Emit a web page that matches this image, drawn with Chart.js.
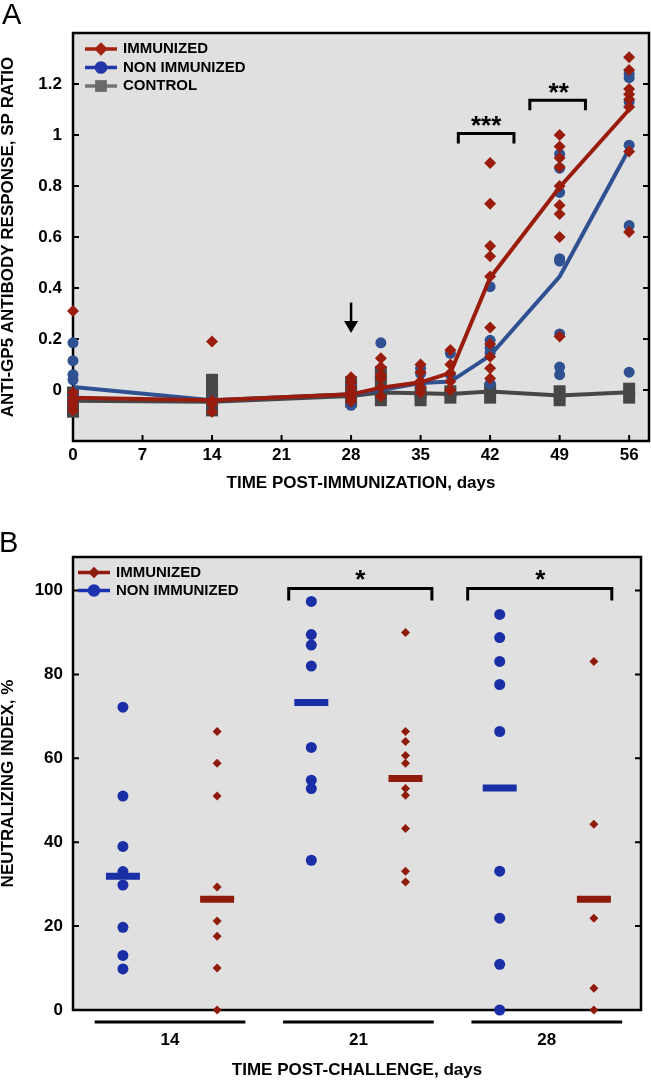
<!DOCTYPE html>
<html>
<head>
<meta charset="utf-8">
<script src="https://cdn.jsdelivr.net/npm/chart.js@4.4.1/dist/chart.umd.min.js"></script>
<style>
  body { margin: 0; background: #fff; width: 651px; height: 1080px; position: relative; overflow: hidden; }
  canvas { position: absolute; left: 0; }
  .panel-label { position: absolute; font-family: "Liberation Sans", Arial, sans-serif; font-size: 29px; line-height: 1; color: #000; }
</style>
</head>
<body>
<canvas id="chartA" width="651" height="500" style="top:0"></canvas>
<canvas id="chartB" width="651" height="580" style="top:500px"></canvas>
<div class="panel-label" style="left:2px; top:0px;">A</div>
<div class="panel-label" style="left:-1px; top:528px;">B</div>
<script>
// ---- Panel A: anti-GP5 antibody response (SP ratio) ----
const daysA = [0, 14, 28, 31, 35, 38, 42, 49, 56];
const dayTicksA = [0, 7, 14, 21, 28, 35, 42, 49, 56];
const spTicksA = [0, 0.2, 0.4, 0.6, 0.8, 1, 1.2];
const spLabelsA = ['0', '0.2', '0.4', '0.6', '0.8', '1', '1.2'];

const immunizedMeanA = [-0.03, -0.04, -0.017, 0.009, 0.03, 0.067, 0.44, 0.795, 1.10];
const nonImmunizedMeanA = [0.012, -0.04, -0.017, 0.0, 0.027, 0.033, 0.135, 0.445, 0.945];
const controlMeanA = [-0.042, -0.046, -0.024, -0.01, -0.013, -0.016, -0.006, -0.022, -0.009];

const immunizedA = [
  [0.31, -0.01, -0.03, -0.045, -0.06, -0.08],
  [0.19, -0.04, -0.055, -0.085],
  [0.05, 0.03, 0.01, -0.01, -0.03, -0.045],
  [0.125, 0.09, 0.06, 0.045, 0.01, -0.025],
  [0.1, 0.07, 0.035, 0.01, -0.01],
  [0.157, 0.1, 0.066, 0.033, 0.0],
  [0.89, 0.73, 0.565, 0.525, 0.445, 0.245, 0.18, 0.13, 0.085, 0.045],
  [1.0, 0.955, 0.91, 0.875, 0.8, 0.725, 0.69, 0.6, 0.21],
  [1.305, 1.255, 1.18, 1.16, 1.14, 1.11, 0.935, 0.62]
];
const nonImmunizedA = [
  [0.185, 0.115, 0.06, 0.04, -0.02, -0.05],
  [-0.04],
  [0.02, -0.06],
  [0.185, 0.0],
  [0.085, 0.065, 0.02],
  [0.144, 0.06],
  [0.405, 0.195, 0.165, 0.145, 0.025],
  [0.925, 0.87, 0.775, 0.515, 0.505, 0.22, 0.09, 0.06],
  [1.24, 1.225, 1.13, 0.96, 0.645, 0.07]
];
const controlA = [
  [-0.01, -0.05, -0.085],
  [0.04, 0.0, -0.04, -0.08],
  [0.03, -0.01, -0.045],
  [0.07, 0.03, -0.01, -0.04],
  [-0.01, -0.04],
  [-0.005, -0.03],
  [0.005, -0.03],
  [-0.005, -0.04],
  [0.005, -0.03]
];

// ---- Panel B: neutralizing index ----
const groupsB = ['14', '21', '28'];
const groupTicksB = [0.5, 2.5, 4.5];
const slotsNonImmB = [0, 2, 4];
const slotsImmB = [1, 3, 5];
const niTicksB = [0, 20, 40, 60, 80, 100];

const nonImmunizedB = [
  [72.2, 51, 39, 33, 29.8, 19.7, 13, 9.8],
  [97.4, 89.5, 87, 82, 62.6, 54.8, 52.8, 35.7],
  [94.3, 88.8, 83.1, 77.6, 66.4, 33.1, 21.9, 10.9, 0]
];
const immunizedB = [
  [66.4, 58.8, 51, 29.3, 21.2, 17.6, 10, 0],
  [90, 66.4, 64, 60.7, 58.8, 52.8, 51.2, 43.3, 33.1, 30.5],
  [83.1, 44.3, 21.9, 5.2, 0]
];
const nonImmunizedMedianB = [31.9, 73.3, 52.9];
const immunizedMedianB = [26.4, 55.2, 26.4];

const RED_A = '#9a1c0c';
const BLUE_A = '#2f5191';
const GRAY_A = '#474747';
const RED_B = '#8f1b0c';
const BLUE_B = '#1a2ea6';
const FONT = '"Liberation Sans", Arial, sans-serif';

Chart.defaults.font.family = FONT;
Chart.defaults.color = '#000';

function toPoints(xs, groups) {
  const out = [];
  groups.forEach((vals, i) => vals.forEach(v => out.push({ x: xs[i], y: v })));
  return out;
}

function drawMarker(ctx, style, x, y, r, color) {
  ctx.fillStyle = color;
  ctx.beginPath();
  if (style === 'circle') {
    ctx.arc(x, y, r, 0, Math.PI * 2);
  } else if (style === 'rectRot') {
    ctx.moveTo(x, y - r); ctx.lineTo(x + r, y); ctx.lineTo(x, y + r); ctx.lineTo(x - r, y); ctx.closePath();
  } else {
    const s = r * Math.SQRT1_2;
    ctx.rect(x - s, y - s, 2 * s, 2 * s);
  }
  ctx.fill();
}

function drawStars(ctx, text, x, yCenter) {
  ctx.font = 'bold 26px ' + FONT;
  ctx.textAlign = 'center';
  ctx.textBaseline = 'alphabetic';
  ctx.fillStyle = '#000';
  ctx.fillText(text, x, yCenter + 15);
}

function drawBracket(ctx, x1, x2, y, leg) {
  ctx.beginPath();
  ctx.moveTo(x1, y + leg);
  ctx.lineTo(x1, y);
  ctx.lineTo(x2, y);
  ctx.lineTo(x2, y + leg);
  ctx.stroke();
}

// keep the plot box where it is: no extra room for tick labels
function noPadding(s) {
  s.paddingLeft = 0; s.paddingRight = 0; s.paddingTop = 0; s.paddingBottom = 0;
}

// grey plot box, frame and inward ticks
const plotFrame = {
  id: 'plotFrame',
  beforeDatasetsDraw(chart, args, opts) {
    const { ctx, chartArea: a, scales } = chart;
    ctx.save();
    ctx.fillStyle = '#e0e0e0';
    ctx.fillRect(a.left, a.top, a.width, a.height);
    ctx.strokeStyle = '#000';
    ctx.lineWidth = 2.5;
    ctx.strokeRect(a.left, a.top, a.width, a.height);
    ctx.lineWidth = 2;
    ctx.beginPath();
    scales.y.ticks.forEach(t => {
      const y = scales.y.getPixelForValue(t.value);
      ctx.moveTo(a.left, y); ctx.lineTo(a.left + 6, y);
      ctx.moveTo(a.right, y); ctx.lineTo(a.right - 6, y);
    });
    if (opts.xTicks) {
      scales.x.ticks.forEach(t => {
        const x = scales.x.getPixelForValue(t.value);
        ctx.moveTo(x, a.bottom); ctx.lineTo(x, a.bottom - 6);
      });
    }
    ctx.stroke();
    ctx.restore();
  }
};

const notesA = {
  id: 'notesA',
  afterDatasetsDraw(chart) {
    const { ctx, chartArea: a, scales: { x, y } } = chart;
    ctx.save();
    ctx.strokeStyle = '#000';
    ctx.lineWidth = 3;
    // significance brackets
    drawBracket(ctx, x.getPixelForValue(38.8), x.getPixelForValue(44.4), y.getPixelForValue(1.006), 10);
    drawBracket(ctx, x.getPixelForValue(46.0), x.getPixelForValue(51.6), y.getPixelForValue(1.136), 10);
    drawStars(ctx, '***', x.getPixelForValue(41.6), y.getPixelForValue(1.061));
    drawStars(ctx, '**', x.getPixelForValue(48.9), y.getPixelForValue(1.191));
    // arrow at day 28 (boost)
    const ax = x.getPixelForValue(28);
    const top = y.getPixelForValue(0.343), tip = y.getPixelForValue(0.224);
    ctx.lineWidth = 2.5;
    ctx.beginPath();
    ctx.moveTo(ax, top); ctx.lineTo(ax, tip - 8);
    ctx.stroke();
    ctx.fillStyle = '#000';
    ctx.beginPath();
    ctx.moveTo(ax - 7, tip - 12); ctx.lineTo(ax + 7, tip - 12); ctx.lineTo(ax, tip); ctx.closePath();
    ctx.fill();
    // legend
    const rows = [
      { text: 'IMMUNIZED', line: '#a3230f', mark: '#a3230f', style: 'rectRot', r: 6.7 },
      { text: 'NON IMMUNIZED', line: '#2338a8', mark: '#2236a8', style: 'circle', r: 6.3 },
      { text: 'CONTROL', line: '#747474', mark: '#6a6a6a', style: 'rect', r: 8.3 }
    ];
    ctx.font = 'bold 15px ' + FONT;
    ctx.textAlign = 'left';
    ctx.textBaseline = 'middle';
    rows.forEach((row, i) => {
      const ry = a.top + 16 + i * 18.5;
      ctx.strokeStyle = row.line;
      ctx.lineWidth = 3.5;
      ctx.beginPath();
      ctx.moveTo(a.left + 12, ry); ctx.lineTo(a.left + 44, ry);
      ctx.stroke();
      drawMarker(ctx, row.style, a.left + 28, ry, row.r, row.mark);
      ctx.fillStyle = '#000';
      ctx.fillText(row.text, a.left + 50, ry);
    });
    ctx.restore();
  }
};

const notesB = {
  id: 'notesB',
  afterDatasetsDraw(chart) {
    const { ctx, chartArea: a, scales: { x, y } } = chart;
    ctx.save();
    ctx.strokeStyle = '#000';
    ctx.lineWidth = 3;
    // group underlines below the axis
    groupTicksB.forEach(c => {
      ctx.beginPath();
      ctx.moveTo(x.getPixelForValue(c - 0.8), a.bottom + 12);
      ctx.lineTo(x.getPixelForValue(c + 0.8), a.bottom + 12);
      ctx.stroke();
    });
    // significance brackets
    drawBracket(ctx, x.getPixelForValue(1.76), x.getPixelForValue(3.28), y.getPixelForValue(100.5), 12);
    drawBracket(ctx, x.getPixelForValue(3.66), x.getPixelForValue(5.19), y.getPixelForValue(100.5), 12);
    drawStars(ctx, '*', x.getPixelForValue(2.52), y.getPixelForValue(104.3));
    drawStars(ctx, '*', x.getPixelForValue(4.43), y.getPixelForValue(104.3));
    // legend
    const rows = [
      { text: 'IMMUNIZED', color: RED_B, style: 'rectRot', r: 5.8 },
      { text: 'NON IMMUNIZED', color: '#1c32b0', style: 'circle', r: 6.2 }
    ];
    ctx.font = 'bold 15px ' + FONT;
    ctx.textAlign = 'left';
    ctx.textBaseline = 'middle';
    rows.forEach((row, i) => {
      const ry = a.top + 15.5 + i * 18;
      ctx.strokeStyle = row.color;
      ctx.lineWidth = 3.5;
      ctx.beginPath();
      ctx.moveTo(a.left + 5, ry); ctx.lineTo(a.left + 37, ry);
      ctx.stroke();
      drawMarker(ctx, row.style, a.left + 21, ry, row.r, row.color);
      ctx.fillStyle = '#000';
      ctx.fillText(row.text, a.left + 43, ry);
    });
    ctx.restore();
  }
};

const tickFont = { size: 17, weight: 'bold' };
const titleFont = { size: 17, weight: 'bold', lineHeight: 1 };

// ---- Chart A ----
new Chart(document.getElementById('chartA'), {
  type: 'scatter',
  data: {
    datasets: [
      { label: 'IMMUNIZED', data: toPoints(daysA, immunizedA), pointStyle: 'rectRot', pointRadius: 6,
        backgroundColor: RED_A, borderWidth: 0, clip: false },
      { type: 'line', label: 'IMMUNIZED mean', data: toPoints(daysA, immunizedMeanA.map(v => [v])),
        borderColor: RED_A, borderWidth: 4, pointRadius: 0, tension: 0, fill: false, clip: false },
      { type: 'line', label: 'NON IMMUNIZED mean', data: toPoints(daysA, nonImmunizedMeanA.map(v => [v])),
        borderColor: BLUE_A, borderWidth: 4, pointRadius: 0, tension: 0, fill: false, clip: false },
      { type: 'line', label: 'CONTROL mean', data: toPoints(daysA, controlMeanA.map(v => [v])),
        borderColor: GRAY_A, borderWidth: 4, pointRadius: 0, tension: 0, fill: false, clip: false },
      { label: 'NON IMMUNIZED', data: toPoints(daysA, nonImmunizedA), pointStyle: 'circle', pointRadius: 5.5,
        backgroundColor: BLUE_A, borderWidth: 0, clip: false },
      { label: 'CONTROL', data: toPoints(daysA, controlA), pointStyle: 'rect', pointRadius: 8.5,
        backgroundColor: GRAY_A, borderWidth: 0, clip: false }
    ]
  },
  options: {
    responsive: false,
    animation: false,
    events: [],
    layout: { autoPadding: false, padding: { top: 33, right: 2, left: 0, bottom: 0 } },
    plugins: { legend: { display: false }, tooltip: { enabled: false }, plotFrame: { xTicks: true } },
    scales: {
      x: {
        type: 'linear', min: 0, max: 58,
        afterBuildTicks: s => { s.ticks = dayTicksA.map(v => ({ value: v })); },
        afterFit: s => { s.height = 59; noPadding(s); },
        grid: { display: false, drawTicks: false },
        border: { display: false },
        ticks: { padding: 4, font: tickFont, maxRotation: 0, callback: v => String(v) },
        title: { display: true, text: 'TIME POST-IMMUNIZATION, days', font: titleFont, padding: { top: 0, bottom: 8.5 } }
      },
      y: {
        type: 'linear', min: -0.2, max: 1.4,
        afterBuildTicks: s => { s.ticks = spTicksA.map(v => ({ value: v })); },
        afterFit: s => { s.width = 73; noPadding(s); },
        grid: { display: false, drawTicks: false },
        border: { display: false },
        ticks: { padding: 11, font: tickFont, callback: (v, i) => spLabelsA[i] },
        title: { display: true, text: 'ANTI-GP5 ANTIBODY RESPONSE, SP RATIO', font: titleFont, padding: { top: 0, bottom: 0 } }
      }
    }
  },
  plugins: [plotFrame, notesA]
});

// ---- Chart B ----
new Chart(document.getElementById('chartB'), {
  type: 'scatter',
  data: {
    datasets: [
      { label: 'IMMUNIZED median', data: toPoints(slotsImmB, immunizedMedianB.map(v => [v])), pointStyle: 'line',
        pointRadius: 17, pointBorderWidth: 7, pointBorderColor: RED_B, clip: false },
      { label: 'NON IMMUNIZED median', data: toPoints(slotsNonImmB, nonImmunizedMedianB.map(v => [v])), pointStyle: 'line',
        pointRadius: 17, pointBorderWidth: 7, pointBorderColor: BLUE_B, clip: false },
      { label: 'IMMUNIZED', data: toPoints(slotsImmB, immunizedB), pointStyle: 'rectRot', pointRadius: 4.5,
        backgroundColor: RED_B, borderWidth: 0, clip: false },
      { label: 'NON IMMUNIZED', data: toPoints(slotsNonImmB, nonImmunizedB), pointStyle: 'circle', pointRadius: 5.5,
        backgroundColor: BLUE_B, borderWidth: 0, clip: false }
    ]
  },
  options: {
    responsive: false,
    animation: false,
    events: [],
    layout: { autoPadding: false, padding: { top: 57, right: 10, left: 0, bottom: 0 } },
    plugins: { legend: { display: false }, tooltip: { enabled: false }, plotFrame: { xTicks: false } },
    scales: {
      x: {
        type: 'linear', min: -0.53, max: 5.5,
        afterBuildTicks: s => { s.ticks = groupTicksB.map(v => ({ value: v })); },
        afterFit: s => { s.height = 70; noPadding(s); },
        grid: { display: false, drawTicks: false },
        border: { display: false },
        ticks: { padding: 20, font: tickFont, maxRotation: 0, callback: (v, i) => groupsB[i] },
        title: { display: true, text: 'TIME POST-CHALLENGE, days', font: titleFont, padding: { top: 0, bottom: 1.5 } }
      },
      y: {
        type: 'linear', min: 0, max: 108,
        afterBuildTicks: s => { s.ticks = niTicksB.map(v => ({ value: v })); },
        afterFit: s => { s.width = 73; noPadding(s); },
        grid: { display: false, drawTicks: false },
        border: { display: false },
        ticks: { padding: 10, font: tickFont, callback: v => String(v) },
        title: { display: true, text: 'NEUTRALIZING INDEX, %', font: titleFont, padding: { top: 0, bottom: 0 } }
      }
    }
  },
  plugins: [plotFrame, notesB]
});
</script>
</body>
</html>
